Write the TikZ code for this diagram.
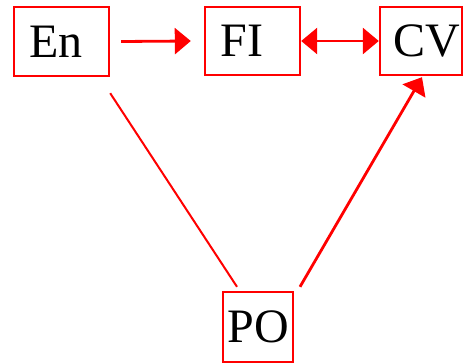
\documentclass[tikz,border=0pt]{standalone}
\usepackage{fontspec}
\setmainfont{Liberation Serif}
\usetikzlibrary{arrows.meta,calc}
\begin{document}
\begin{tikzpicture}[x=1pt,y=-1pt,
  box/.style={draw=red,line width=2.4pt,inner sep=0pt,font=\fontsize{48}{50}\selectfont,text=black},
  redline/.style={draw=red,line width=2pt},
  redarrow/.style={draw=red,line width=2.8pt,-{Triangle[length=16pt,width=26pt]},red},
  redboth/.style={draw=red,line width=2.8pt,{Triangle[length=16pt,width=26pt]}-{Triangle[length=16pt,width=26pt]},red}]
\useasboundingbox (0,0) rectangle (464,364);
\node[box,minimum width=95pt,minimum height=69pt] (En) at (61.5,41.5) {En\kern11pt};
\node[box,minimum width=95pt,minimum height=68pt] (FI) at (252.5,41) {FI\kern21pt};
\node[box,minimum width=82pt,minimum height=68pt] (CV) at (421,41) {\kern12pt CV};
\node[box,minimum width=70pt,minimum height=70pt] (PO) at (258,327) {PO};
\draw[redarrow] ([xshift=11pt]En.east) -- ([xshift=-13pt]FI.west);
\draw[redboth] (FI.east) -- (CV.west);
\draw[redline] ([shift={(0,16)}]En.south east) -- ([shift={(-21,-4)}]PO.north);
\draw[redarrow] ([shift={(42,-4)}]PO.north) -- ([shift={(1,1)}]CV.south);
\end{tikzpicture}
\end{document}
